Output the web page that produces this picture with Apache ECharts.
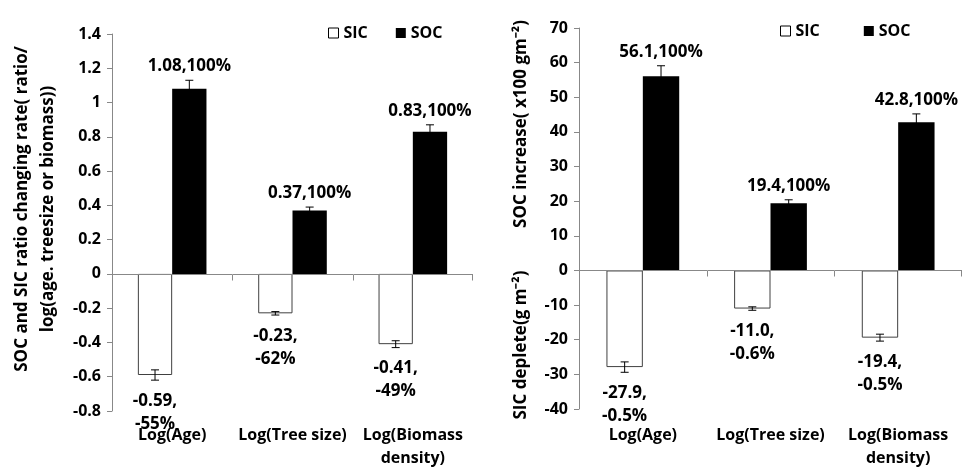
<!DOCTYPE html>
<html><head><meta charset="utf-8">
<script src="https://cdn.jsdelivr.net/npm/echarts@6/dist/echarts.min.js"></script>
<style>html,body{margin:0;padding:0;background:#fff}#c{width:962px;height:470px}</style>
</head><body><div id="c"></div>
<script>
// ---- data ----
const categories = ['Log(Age)', 'Log(Tree size)', 'Log(Biomass\ndensity)'];
const leftSIC = [-0.59, -0.23, -0.41];
const leftSICErr = [0.03, 0.01, 0.02];
const leftSICPct = ['-55%', '-62%', '-49%'];
const leftSOC = [1.08, 0.37, 0.83];
const leftSOCErr = [0.05, 0.02, 0.04];
const leftSOCPct = ['100%', '100%', '100%'];
const rightSIC = [-27.9, -11.0, -19.4];
const rightSICErr = [1.5, 0.5, 1.0];
const rightSICPct = ['-0.5%', '-0.6%', '-0.5%'];
const rightSOC = [56.1, 19.4, 42.8];
const rightSOCErr = [3.0, 1.0, 2.4];
const rightSOCPct = ['100%', '100%', '100%'];
const leftAxis = { min: -0.8, max: 1.4, interval: 0.2 };
const rightAxis = { min: -40, max: 70, interval: 10 };
const leftTitle = 'SOC and SIC ratio changing rate( ratio/\nlog(age. treesize or biomass))';
const rightTitleTop = 'SOC increase( x100 gm⁻²)';
const rightTitleBottom = 'SIC deplete(g m⁻²)';

// ---- styling ----
const FONT = '"Open Sans", "Liberation Sans", sans-serif';
const GAP = 0.43;
const AXIS_COLOR = '#888';
const chart = echarts.init(document.getElementById('c'));

function errSeries(name, grid, vals, errs, pcts, isSOC, decimals) {
  return {
    type: 'custom', name: name, xAxisIndex: grid, yAxisIndex: grid, z: 5, silent: true,
    data: vals.map((v, i) => [i, v, errs[i]]),
    renderItem: function (params, api) {
      const i = api.value(0), v = api.value(1), e = api.value(2);
      const pct = pcts[params.dataIndex];
      const c = api.coord([i, v]);
      const band = api.size([1, 0])[0];
      const bw = band * (1 - GAP) / 2;
      const x = c[0] + (isSOC ? bw / 2 : -bw / 2);
      const yHi = api.coord([i, v + e])[1];
      const yLo = api.coord([i, v - e])[1];
      const cap = 4;
      const ls = { stroke: '#000', lineWidth: 1 };
      const children = [
        { type: 'line', shape: { x1: x, y1: yHi, x2: x, y2: yLo }, style: ls },
        { type: 'line', shape: { x1: x - cap, y1: yHi, x2: x + cap, y2: yHi }, style: ls },
        { type: 'line', shape: { x1: x - cap, y1: yLo, x2: x + cap, y2: yLo }, style: ls }
      ];
      const ts = { font: 'bold 17px ' + FONT, fill: '#000', align: 'center', verticalAlign: 'middle' };
      if (isSOC) {
        children.push({ type: 'text', style: Object.assign({ text: v.toFixed(decimals) + ',' + pct, x: x, y: yHi - 14 }, ts) });
      } else {
        children.push({ type: 'text', style: Object.assign({ text: v.toFixed(decimals) + ',', x: x, y: yLo + 21 }, ts) });
        children.push({ type: 'text', style: Object.assign({ text: pct, x: x, y: yLo + 44 }, ts) });
      }
      return { type: 'group', children: children };
    }
  };
}

// zero baseline with category-boundary ticks, placed through the scales
function baselineSeries(grid) {
  return {
    type: 'custom', xAxisIndex: grid, yAxisIndex: grid, z: 4, silent: true,
    data: categories.map((c, i) => [i, 0]),
    renderItem: function (params, api) {
      const i = api.value(0);
      const c = api.coord([i, 0]);
      const band = api.size([1, 0])[0];
      const ls = { stroke: AXIS_COLOR, lineWidth: 1 };
      const y = Math.round(c[1]) + 0.5;
      const xl = Math.round(c[0] - band / 2) + 0.5;
      const xr = Math.round(c[0] + band / 2) - 0.5;
      const children = [
        { type: 'line', shape: { x1: xl, y1: y, x2: xr + 0.5, y2: y }, style: ls }
      ];
      if (i > 0) children.push({ type: 'line', shape: { x1: xl, y1: y, x2: xl, y2: y + 6 }, style: ls });
      if (i === categories.length - 1) children.push({ type: 'line', shape: { x1: xr, y1: y, x2: xr, y2: y + 6 }, style: ls });
      return { type: 'group', children: children };
    }
  };
}

function barSeries(name, grid, vals, isSOC) {
  return {
    type: 'bar', name: name, xAxisIndex: grid, yAxisIndex: grid,
    data: vals, barGap: '0%', barCategoryGap: (GAP * 100) + '%',
    itemStyle: isSOC ? { color: '#000' } : { color: '#fff', borderColor: '#404040', borderWidth: 1 },
    silent: true
  };
}

function xAxis(grid, margin) {
  return { type: 'category', gridIndex: grid, data: categories, position: 'bottom',
    axisLine: { show: false, onZero: false }, axisTick: { show: false },
    axisLabel: { interval: 0, margin: margin, color: '#000', fontFamily: FONT, fontWeight: 'bold', fontSize: 16, lineHeight: 23 } };
}

function yAxis(grid, ax) {
  return {
    type: 'value', gridIndex: grid, min: ax.min, max: ax.max, interval: ax.interval,
    splitLine: { show: false },
    axisLine: { show: true, lineStyle: { color: AXIS_COLOR, width: 1 } },
    axisTick: { show: true, length: 5, lineStyle: { color: AXIS_COLOR } },
    axisLabel: { margin: 11, color: '#000', fontFamily: FONT, fontWeight: 'bold', fontSize: 16 }
  };
}

const legendText = { color: '#000', fontFamily: FONT, fontWeight: 'bold', fontSize: 16 };
const legendData = [
  { name: 'SIC', itemStyle: { color: '#fff', borderColor: '#000', borderWidth: 1 } },
  { name: 'SOC', itemStyle: { color: '#000' } }
];

const titleStyle = { font: 'bold 17px ' + FONT, fill: '#000', align: 'center', verticalAlign: 'middle', lineHeight: 26 };

chart.setOption({
  animation: false,
  backgroundColor: '#fff',
  grid: [
    { left: 112, top: 34, width: 361, height: 378 },
    { left: 579, top: 28, width: 383, height: 382 }
  ],
  xAxis: [xAxis(0, 13), xAxis(1, 15)],
  yAxis: [yAxis(0, leftAxis), yAxis(1, rightAxis)],
  legend: [
    { left: 328, top: 25, padding: 0, icon: 'rect', itemWidth: 10, itemHeight: 10, itemGap: 28, itemTextGap: 4, selectedMode: false, textStyle: legendText, data: legendData },
    { left: 780, top: 23, padding: 0, icon: 'rect', itemWidth: 10, itemHeight: 10, itemGap: 44, itemTextGap: 3, selectedMode: false, textStyle: legendText, data: legendData }
  ],
  graphic: [
    { type: 'text', x: 35, y: 209, rotation: Math.PI / 2, style: Object.assign({ text: leftTitle }, titleStyle) },
    { type: 'text', x: 521, y: 124, rotation: Math.PI / 2, style: Object.assign({ text: rightTitleTop }, titleStyle) },
    { type: 'text', x: 521, y: 345, rotation: Math.PI / 2, style: Object.assign({ text: rightTitleBottom }, titleStyle) }
  ],
  series: [
    barSeries('SIC', 0, leftSIC, false),
    barSeries('SOC', 0, leftSOC, true),
    barSeries('SIC', 1, rightSIC, false),
    barSeries('SOC', 1, rightSOC, true),
    baselineSeries(0),
    baselineSeries(1),
    errSeries('SIC', 0, leftSIC, leftSICErr, leftSICPct, false, 2),
    errSeries('SOC', 0, leftSOC, leftSOCErr, leftSOCPct, true, 2),
    errSeries('SIC', 1, rightSIC, rightSICErr, rightSICPct, false, 1),
    errSeries('SOC', 1, rightSOC, rightSOCErr, rightSOCPct, true, 1)
  ]
});
</script></body></html>
